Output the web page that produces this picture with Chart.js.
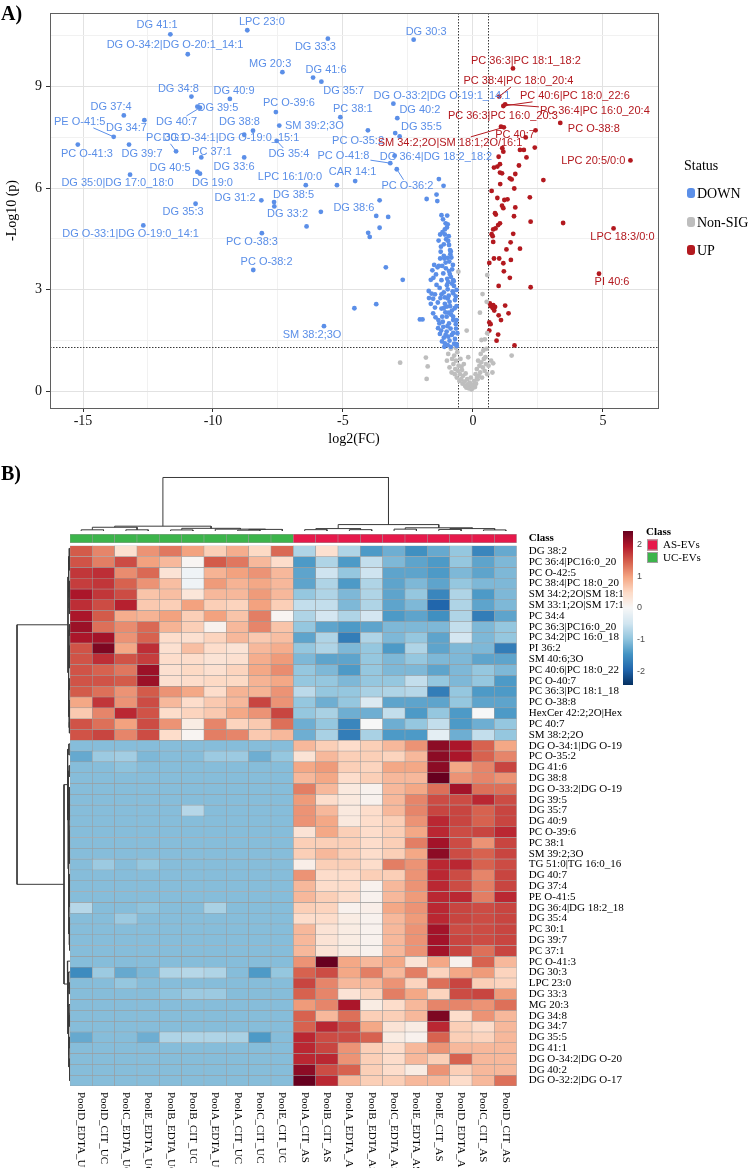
<!DOCTYPE html>
<html><head><meta charset="utf-8">
<script src="https://cdn.jsdelivr.net/npm/chart.js@4.4.1/dist/chart.umd.min.js"></script>
<style>
html,body{margin:0;padding:0;background:#fff;}
#wrap{position:relative;width:750px;height:1168px;overflow:hidden;background:#fff;}
canvas{position:absolute;}
.panel{position:absolute;font:bold 20px "Liberation Serif","Times New Roman",serif;line-height:24px;color:#000;}
</style></head><body>
<div id="wrap">
<canvas id="volcano" width="750" height="465" style="left:0;top:0"></canvas>
<canvas id="heat" width="750" height="648" style="left:0;top:520px"></canvas>
<canvas id="colDendro" width="447" height="55" style="left:70px;top:476px"></canvas>
<canvas id="rowDendro" width="56" height="543" style="left:14px;top:543px"></canvas>
<div class="panel" style="left:1px;top:1px">A)</div>
<div class="panel" style="left:1px;top:461px">B)</div>
</div>
<script>
// ================= DATA : volcano =================
const downLabelNames = ['DG 41:1','DG O-34:2|DG O-20:1_14:1','LPC 23:0','DG 33:3','DG 30:3','MG 20:3','DG 41:6','DG 35:7',
 'DG O-33:2|DG O-19:1_14:1','DG 34:8','DG 40:9','DG 39:5','DG 40:7','PC O-39:6','PC 38:1','DG 40:2','DG 37:4','DG 34:7',
 'PE O-41:5','SM 39:2;3O','DG 38:8','DG O-34:1|DG O-19:0_15:1','DG 35:5','PC O-35:2','PC O-41:3','DG 39:7','PC 30:1',
 'DG 35:4','PC 37:1','DG 33:6','DG 36:4|DG 18:2_18:2','PC O-41:8','DG 40:5','DG 19:0','DG 35:0|DG 17:0_18:0','CAR 14:1',
 'PC O-36:2','LPC 16:1/0:0','DG 31:2','DG 38:5','DG 33:2','DG 38:6','DG 35:3','DG O-33:1|DG O-19:0_14:1','PC O-38:3',
 'PC O-38:2','SM 38:2;3O'];
const downLabelFC = [-11.64,-10.97,-8.68,-5.58,-2.28,-7.33,-6.15,-5.83,-3.06,-10.83,-9.35,-10.6,-10.5,-7.58,-5.1,-2.91,-13.43,-12.64,
 -13.82,-7.45,-8.46,-8.8,-2.99,-4.04,-15.2,-13.23,-11.42,-7.55,-10.45,-8.8,-3.01,-3.18,-10.6,-10.5,-13.19,-4.53,
 -2.93,-6.43,-8.14,-7.65,-5.85,-3.59,-10.67,-12.68,-8.12,-8.45,-5.73];
const downLabelP = [10.55,9.96,10.67,10.42,10.39,9.43,9.27,9.15,8.5,8.71,8.64,8.41,8.38,8.25,8.1,8.07,8.15,8.01,
 7.52,7.85,7.7,7.58,7.63,7.71,7.29,7.29,7.09,7.4,6.91,6.91,6.96,6.74,6.48,6.43,6.4,6.21,
 6.56,6.09,5.64,5.59,5.3,5.64,5.54,4.9,4.67,3.58,1.92];
const downOtherFC = [-5.23,-1.31,-1.13,-7.64,-6.4,-3.72,-3.26,-3.59,-4.03,-3.97,-1.78,-1.4,-1.37,-3.35,-2.7,-4.56,-3.72,-2.04,-1.94,-2.82,
 -1.21,-0.99,-1.05,-0.97,-1.0,-1.08,-1.26,-1.08,-1.32,-1.03,-0.95,-1.12,-0.88,-0.85,-0.92,-1.12,-1.1,-0.97,-1.49,-1.31,
 -1.56,-1.36,-0.77,-0.92,-1.62,-1.21,-0.99,-0.85,-0.81,-0.73,-1.0,-0.97,-1.59,-1.46,-1.21,-1.08,-1.69,-1.53,-0.97,-0.76,
 -0.88,-1.0,-0.63,-1.46,-1.21,-1.18,-1.01,-0.76,-1.29,-0.92,-1.14,-0.86,-1.22,-1.01,-0.81,-1.27,-0.69,-1.12,-0.63,-1.08,
 -0.85,-0.76,-0.63,-1.4,-1.14,-0.91,-0.69,-1.53,-1.33,-1.12,-0.94,-0.65,-0.6,-0.76,-1.04,-0.63,-1.23,-1.15,-0.81,-1.1,
 -0.95,-1.17,-0.93,-1.24,-0.83,-1.05,-1.42,-0.89,-1.28,-0.78,-1.12,-1.35,-0.9,-0.7,-1.06,-1.44,-0.84,-1.16,-0.66,-0.98,
 -1.34,-0.76,-1.05,-0.9,-1.19,-0.72,-0.97,-0.62,-1.26,-0.87,-1.52,-0.95,-1.18,-0.8,-1.7,-1.62,-0.66,-0.74,-1.08,-1.25,-0.93];
const downOtherP = [6.09,6.27,6.07,5.46,4.87,5.18,5.15,4.83,4.68,4.56,5.68,5.81,5.62,3.66,3.29,2.45,2.57,2.12,2.12,7.53,
 5.2,5.19,4.96,4.93,4.84,4.78,4.63,4.63,4.45,4.49,4.44,4.34,4.17,4.13,4.32,4.0,3.92,3.94,3.73,3.7,
 3.57,3.66,3.73,3.55,3.29,3.28,3.32,3.38,3.18,3.11,3.13,3.01,2.88,2.86,2.86,2.77,2.75,2.73,2.74,2.89,
 2.51,2.5,2.51,2.47,2.44,2.2,2.2,2.1,2.0,2.0,1.9,1.85,1.79,1.76,1.66,1.69,1.54,1.58,1.39,1.41,
 1.31,2.2,2.1,3.14,3.48,3.83,2.69,2.3,2.1,2.45,2.32,1.85,1.71,3.28,3.63,2.99,4.27,5.08,2.38,1.31,
 1.61,4.7,4.58,4.12,3.95,3.8,3.45,3.46,3.05,2.95,2.92,2.62,2.64,2.45,2.33,2.18,2.26,2.05,1.98,1.92,
 1.86,1.72,1.66,1.49,1.47,1.4,1.36,1.33,3.92,4.05,3.35,3.22,3.7,3.6,2.96,2.58,2.8,3.25,2.58,2.75,2.82];

const upLabelNames = ['PC 36:3|PC 18:1_18:2','PC 38:4|PC 18:0_20:4','PC 40:6|PC 18:0_22:6','PC 36:4|PC 16:0_20:4','PC O-38:8',
 'PC 36:3|PC 16:0_20:3','SM 34:2;2O|SM 18:1;2O/16:1','PC 40:7','LPC 20:5/0:0','LPC 18:3/0:0','PI 40:6'];
const upLabelFC = [1.54,1.01,1.17,1.24,3.36,1.08,1.19,2.41,6.06,5.41,4.85];
const upLabelP = [9.54,8.71,8.43,8.48,7.93,7.82,7.8,7.71,6.82,4.81,3.47];
const upOtherFC = [2.03,1.81,1.96,2.38,2.06,1.13,1.17,0.99,1.77,1.04,0.94,0.81,1.04,1.12,1.63,1.42,1.49,2.71,1.05,1.59,0.72,
 2.19,0.94,1.21,1.33,1.12,1.17,1.63,0.88,0.85,1.58,2.22,3.47,1.04,0.97,0.87,0.78,0.72,0.76,1.55,0.78,1.45,1.81,1.29,
 0.81,1.01,1.46,1.17,0.63,1.19,1.42,2.22,0.99,0.65,0.78,0.85,0.69,0.76,1.24,0.82,1.37,0.99,1.08,0.63,0.68,0.63,0.97,0.91,1.6];
const upOtherP = [7.5,7.13,7.13,7.2,6.91,7.18,7.08,6.93,6.67,6.71,6.64,6.61,6.46,6.44,6.42,6.29,6.26,6.24,6.12,5.99,5.92,
 5.73,5.71,5.65,5.67,5.48,5.41,5.43,5.22,5.26,5.17,5.01,4.97,4.96,4.91,4.81,4.78,4.64,4.58,4.65,4.41,4.4,4.21,4.19,
 3.92,3.92,3.88,3.78,3.79,3.54,3.35,3.07,3.11,2.59,2.54,2.49,2.51,2.46,2.53,2.38,2.3,2.24,2.1,2.03,1.98,1.79,1.67,1.49,1.35];

const nonSigFC = [-2.8,-1.81,-1.74,-1.78,1.49,0.78,-0.56,0.55,0.37,0.53,0.27,0.55,-0.24,0.33,0.46,
 -1.0,-0.95,-0.9,-0.85,-0.82,-0.8,-0.75,-0.72,-0.7,-0.68,-0.65,-0.62,-0.6,-0.58,-0.55,-0.52,-0.5,-0.48,-0.45,-0.42,
 -0.4,-0.38,-0.35,-0.32,-0.3,-0.28,-0.25,-0.22,-0.2,-0.18,-0.15,-0.12,-0.1,-0.08,-0.05,0.0,0.02,0.05,0.08,0.1,
 0.12,0.15,0.18,0.2,0.22,0.25,0.28,0.3,0.32,0.35,0.38,0.4,0.42,0.45,0.48,0.5,0.52,0.55,0.6,0.7,0.75,-0.66,-0.44,-0.06,0.16];
const nonSigP = [0.84,0.99,0.73,0.36,1.05,0.82,3.53,3.43,2.87,2.64,2.32,1.71,1.79,1.51,1.53,
 0.9,1.1,0.7,1.25,0.55,0.95,0.8,1.05,0.5,0.65,0.9,0.4,1.15,0.6,0.75,0.3,0.5,0.95,0.35,0.62,
 0.22,0.45,0.8,0.28,0.15,0.52,0.1,0.35,0.2,1.0,0.08,0.25,0.12,0.4,0.05,0.1,0.18,0.3,0.12,0.5,
 0.22,0.65,0.35,0.9,0.45,0.75,0.55,1.1,0.85,0.4,0.7,1.2,0.95,0.6,1.0,0.8,1.25,0.5,0.75,0.9,0.55,1.28,0.72,0.18,0.4];

const fcCutoffs = [-0.585, 0.585];
const pCutoff = 1.301;

// ================= DATA : heatmap =================
const colNames = ['PoolD_EDTA_UC','PoolD_CIT_UC','PoolC_EDTA_UC','PoolE_EDTA_UC','PoolB_EDTA_UC','PoolB_CIT_UC','PoolA_EDTA_UC',
 'PoolA_CIT_UC','PoolC_CIT_UC','PoolE_CIT_UC','PoolA_CIT_AS','PoolB_CIT_AS','PoolA_EDTA_AS','PoolB_EDTA_AS','PoolC_EDTA_AS',
 'PoolE_EDTA_AS','PoolE_CIT_AS','PoolD_EDTA_AS','PoolC_CIT_AS','PoolD_CIT_AS'];
const colClass = ['UC-EVs','UC-EVs','UC-EVs','UC-EVs','UC-EVs','UC-EVs','UC-EVs','UC-EVs','UC-EVs','UC-EVs',
 'AS-EVs','AS-EVs','AS-EVs','AS-EVs','AS-EVs','AS-EVs','AS-EVs','AS-EVs','AS-EVs','AS-EVs'];
const rowNames = ['DG 38:2','PC 36:4|PC16:0_20','PC O-42:5','PC 38:4|PC 18:0_20','SM 34:2;2O|SM 18:1','SM 33:1;2O|SM 17:1',
 'PC 34:4','PC 36:3|PC16:0_20','PC 34:2|PC 16:0_18','PI 36:2','SM 40:6;3O','PC 40:6|PC 18:0_22','PC O-40:7',
 'PC 36:3|PC 18:1_18','PC O-38:8','HexCer 42:2;2O|Hex','PC 40:7','SM 38:2;2O',
 'DG O-34:1|DG O-19','PC O-35:2','DG 41:6','DG 38:8','DG O-33:2|DG O-19','DG 39:5','DG 35:7','DG 40:9','PC O-39:6',
 'PC 38:1','SM 39:2;3O','TG 51:0|TG 16:0_16','DG 40:7','DG 37:4','PE O-41:5','DG 36:4|DG 18:2_18','DG 35:4','PC 30:1',
 'DG 39:7','PC 37:1','PC O-41:3','DG 30:3','LPC 23:0','DG 33:3','MG 20:3','DG 34:8','DG 34:7','DG 35:5','DG 41:1',
 'DG O-34:2|DG O-20','DG 40:2','DG O-32:2|DG O-17'];
const heatUpper = [
 [1.5,1.2,0.4,1.1,1.3,1.0,0.6,0.9,0.5,1.4,-0.75,0.4,-0.75,-1.4,-1.2,-1.5,-1.25,-0.95,-1.6,-1.25],
 [1.55,1.25,1.6,1.0,0.8,0.05,1.5,1.3,0.8,0.45,-1.4,-0.75,-1.4,-0.6,-1.1,-1.3,-1.4,-0.95,-1.3,-1.1],
 [1.75,1.8,1.15,1.4,0.35,-0.1,0.85,1.0,1.1,0.8,-1.3,-0.5,-0.95,-0.5,-1.3,-1.3,-1.4,-1.1,-1.3,-1.1],
 [1.7,1.75,1.45,1.1,0.75,-0.1,1.05,0.85,0.95,0.8,-1.3,-0.75,-1.4,-0.75,-1.3,-1.1,-1.3,-0.95,-1.1,-1.1],
 [2.0,1.75,1.6,0.7,0.75,0.3,0.8,0.8,1.05,0.8,-0.95,-0.75,-1.1,-0.75,-1.3,-0.95,-1.6,-0.75,-1.4,-1.1],
 [1.8,1.6,1.9,0.65,0.6,1.0,0.6,0.55,1.0,0.6,-0.6,-0.6,-1.1,-0.75,-1.3,-1.1,-1.95,-0.75,-1.3,-1.1],
 [2.0,1.5,0.9,0.85,1.0,0.6,1.0,0.7,1.25,0.05,-0.75,-0.45,-0.75,-0.45,-1.4,-1.3,-1.5,-0.75,-1.7,-1.3],
 [2.1,1.35,1.15,1.4,0.85,0.6,0.1,0.8,1.2,0.7,-0.95,-1.3,-1.4,-1.3,-1.1,-1.1,-1.1,-0.6,-1.1,-0.95],
 [2.0,2.05,1.1,1.45,0.45,0.4,0.55,0.8,0.65,0.75,-1.3,-0.75,-1.7,-0.75,-1.1,-0.95,-1.3,-0.45,-1.1,-0.95],
 [1.55,2.3,0.95,1.8,0.4,0.75,0.45,0.35,0.8,0.9,-0.95,-0.75,-1.1,-0.95,-1.4,-0.75,-1.3,-1.1,-1.1,-1.7],
 [1.55,1.8,1.55,1.7,0.45,0.45,0.35,0.4,0.9,1.05,-1.1,-1.3,-1.3,-0.95,-1.1,-0.95,-1.1,-1.1,-1.3,-1.3],
 [1.55,1.45,1.3,2.1,0.4,0.5,0.4,0.55,0.95,1.15,-0.95,-1.1,-1.4,-0.95,-1.1,-1.1,-1.3,-1.1,-0.95,-1.1],
 [1.55,1.55,1.5,2.1,0.4,0.45,0.5,0.5,0.85,0.95,-0.95,-0.95,-1.1,-0.95,-0.95,-0.6,-0.95,-1.1,-0.95,-1.4],
 [1.5,1.35,1.1,1.5,1.1,0.95,0.45,0.85,0.85,1.1,-0.65,-0.95,-0.95,-0.8,-0.75,-0.7,-1.7,-0.95,-1.4,-1.4],
 [0.95,1.75,1.1,1.6,0.8,0.45,0.65,0.8,1.65,1.1,-0.95,-1.2,-0.95,-0.35,-1.3,-1.3,-1.3,-0.95,-1.3,-1.3],
 [0.65,1.2,1.85,1.55,0.45,0.55,0.65,0.95,1.1,1.65,-0.95,-0.8,-1.2,-1.2,-0.6,-1.4,-0.95,-1.4,0.0,-1.4],
 [1.55,1.35,1.0,1.6,1.1,0.2,1.2,0.55,0.65,1.35,-1.2,-0.95,-1.6,0.0,-1.2,-0.95,-0.6,-1.4,-1.2,-0.95],
 [1.55,1.65,1.2,1.6,0.45,0.05,1.25,1.2,0.65,0.8,-1.2,-0.8,-1.7,-0.8,-1.4,-1.4,-0.25,-1.2,-0.6,-0.95]
];
const heatLower = [
 [-1.05,-1.05,-1.05,-1.05,-1.05,-1.05,-1.05,-1.05,-1.05,-1.05,0.8,0.6,0.45,0.6,0.8,1.1,2.2,2.0,1.45,0.95],
 [-1.25,-0.9,-0.85,-1.1,-1.05,-1.05,-0.9,-0.9,-1.2,-0.95,0.35,0.8,0.6,0.6,0.55,0.8,2.2,2.0,1.45,1.2],
 [-1.05,-1.05,-1.0,-1.05,-1.05,-1.05,-1.05,-1.05,-1.05,-1.05,0.95,1.05,0.6,0.55,0.95,0.95,2.2,0.95,1.2,1.65],
 [-1.05,-1.05,-1.05,-1.05,-1.05,-1.05,-1.05,-1.05,-1.05,-1.05,0.8,0.95,0.45,0.6,0.8,0.8,2.45,1.1,1.2,1.1],
 [-1.05,-1.05,-1.05,-1.05,-1.05,-1.05,-1.05,-1.05,-1.05,-1.05,1.25,0.8,0.25,0.1,0.8,0.95,1.35,2.05,1.35,1.35],
 [-1.05,-1.05,-1.05,-1.05,-1.05,-1.05,-1.05,-1.05,-1.05,-1.05,1.05,0.45,0.25,0.1,0.8,1.2,1.6,1.6,1.85,1.6],
 [-1.05,-1.05,-1.05,-1.05,-1.05,-0.7,-1.05,-1.05,-1.05,-1.05,1.1,0.8,0.25,0.45,0.8,1.2,1.65,1.65,1.45,1.65],
 [-1.05,-1.05,-1.05,-1.05,-1.05,-1.05,-1.05,-1.05,-1.05,-1.05,1.1,0.95,0.25,0.45,0.6,1.1,1.85,1.65,1.45,1.65],
 [-1.05,-1.05,-1.05,-1.05,-1.05,-1.05,-1.05,-1.05,-1.05,-1.05,0.35,0.95,0.6,0.45,0.6,0.95,1.85,1.6,1.65,1.85],
 [-1.05,-1.05,-1.05,-1.05,-1.05,-1.05,-1.05,-1.05,-1.05,-1.05,0.6,0.6,0.6,0.45,0.6,1.25,2.05,1.6,1.1,1.65],
 [-1.05,-1.05,-1.05,-1.05,-1.05,-1.05,-1.05,-1.05,-1.05,-1.05,0.6,0.8,0.6,0.45,0.6,0.95,2.2,1.6,1.45,1.65],
 [-1.05,-0.9,-1.05,-0.95,-1.05,-1.05,-1.05,-1.05,-1.05,-1.05,0.15,0.6,0.6,0.45,1.25,1.1,1.85,1.85,1.45,1.6],
 [-1.05,-1.05,-1.05,-1.05,-1.05,-1.05,-1.05,-1.05,-1.05,-1.05,1.1,0.45,0.45,0.6,0.6,1.1,1.85,1.6,1.2,1.65],
 [-1.05,-1.05,-1.05,-1.05,-1.05,-1.05,-1.05,-1.05,-1.05,-1.05,0.8,0.45,0.45,0.1,0.8,1.1,1.85,1.6,1.25,1.65],
 [-1.05,-1.05,-1.05,-1.05,-1.05,-1.05,-1.05,-1.05,-1.05,-1.05,0.8,0.6,0.45,0.1,0.8,1.05,1.85,1.85,1.25,1.85],
 [-0.7,-1.05,-1.05,-1.0,-1.05,-1.05,-0.8,-1.05,-1.05,-1.05,0.6,0.55,0.1,0.15,0.95,1.1,1.85,1.65,1.6,1.65],
 [-1.05,-1.05,-0.9,-1.05,-1.05,-1.05,-1.05,-1.05,-1.05,-1.05,0.45,0.45,0.2,0.1,0.8,1.05,1.85,1.65,1.6,1.65],
 [-1.05,-1.05,-1.05,-1.05,-1.05,-1.05,-1.05,-1.05,-1.05,-1.05,0.8,0.35,0.2,0.1,0.8,1.1,2.05,1.6,1.6,1.65],
 [-1.05,-1.05,-1.05,-1.05,-1.05,-1.05,-1.05,-1.05,-1.05,-1.05,0.8,0.35,0.2,0.1,0.8,1.1,2.05,1.65,1.6,1.65],
 [-1.05,-1.05,-1.05,-1.05,-1.05,-1.05,-1.05,-1.05,-1.05,-1.05,0.8,0.35,0.2,0.1,0.8,1.1,2.05,1.65,1.35,1.65],
 [-1.05,-1.05,-1.05,-1.05,-1.05,-1.05,-1.05,-1.05,-1.05,-1.05,1.1,2.45,0.95,0.8,0.95,0.35,0.95,0.1,1.45,0.8],
 [-1.55,-0.9,-1.25,-1.1,-0.75,-0.7,-0.75,-1.05,-1.4,-0.95,1.45,1.6,0.95,1.25,0.8,1.25,0.55,0.95,1.05,0.55],
 [-1.05,-1.05,-0.95,-1.05,-1.05,-1.05,-1.05,-1.05,-1.05,-1.05,1.65,1.2,0.8,0.8,1.1,0.55,1.35,1.65,0.6,0.55],
 [-1.05,-1.05,-1.05,-1.05,-1.0,-0.9,-0.9,-1.05,-1.05,-1.05,1.45,1.2,0.35,0.55,1.25,0.95,0.55,1.6,1.65,1.05],
 [-1.05,-1.05,-1.05,-1.05,-1.05,-1.05,-1.05,-1.05,-1.05,-1.05,1.05,1.2,2.0,0.2,0.45,0.8,1.2,1.2,1.1,1.35],
 [-1.05,-1.05,-1.05,-1.05,-1.05,-1.05,-1.05,-1.05,-1.05,-1.05,1.45,0.8,1.35,0.6,0.6,0.8,2.3,0.45,1.1,0.8],
 [-1.05,-1.05,-1.05,-1.05,-1.05,-1.05,-1.05,-1.05,-1.05,-1.05,1.45,1.85,1.6,0.95,0.35,0.2,1.85,0.6,0.45,0.8],
 [-1.25,-1.05,-1.05,-1.2,-0.75,-0.75,-0.75,-0.8,-1.4,-1.05,1.85,1.6,1.6,1.45,0.2,0.1,1.45,0.6,0.55,0.8],
 [-1.05,-1.05,-1.05,-1.05,-1.05,-1.05,-1.05,-1.05,-1.05,-1.05,1.85,1.65,1.1,0.6,0.45,0.8,1.1,0.8,0.8,0.8],
 [-1.05,-1.05,-1.05,-1.05,-1.05,-1.05,-1.05,-1.05,-1.05,-1.05,1.85,1.85,1.1,0.6,0.45,0.8,0.6,1.45,0.8,0.8],
 [-1.05,-1.05,-1.05,-1.05,-1.05,-1.05,-1.05,-1.05,-1.05,-1.05,2.2,1.6,1.45,0.6,0.45,0.2,1.1,0.6,0.8,0.8],
 [-1.05,-1.05,-1.05,-1.05,-1.05,-1.05,-1.05,-1.05,-1.05,-1.05,2.45,1.85,0.8,0.6,0.6,0.8,0.8,0.45,0.8,1.35]
];
// dendrograms: [height, left, right]; a number is a leaf index
const colTree = [10,
  [0.9, [0.7, [0.22, 0, 1], [0.22, 2, 3]], [0.5, [0.2, 4, 5], [0.35, 6, [0.3, [0.15, 7, 8], 9]]]],
  [1.2, [0.45, [0.25, 10, 11], [0.25, 12, 13]], [0.6, [0.35, 14, 15], [0.45, [0.3, 16, 17], [0.2, 18, 19]]]]];
const rowTree = [10,
  [0.38,
    [0.25, [0.15, 0, [0.1, 1, 2]], [0.18, [0.1, 3, 4], [0.12, 5, 6]]],
    [0.3, [0.2, [0.12, 7, 8], [0.14, [0.08, 9, 10], 11]], [0.22, [0.15, 12, 13], [0.17, [0.1, 14, 15], [0.11, 16, 17]]]]],
  [1.13,
    [0.45, [0.2, 18, 19], [0.35, [0.15, 20, 21], [0.3,
        [0.2, [0.12, [0.08, 22, 23], [0.08, 24, 25]], [0.15, [0.06, 26, 27], [0.1, 28, 29]]],
        [0.22, [0.1, [0.05, 30, 31], [0.07, 32, 33]], [0.14, [0.08, 34, 35], [0.09, 36, 37]]]]]],
    [0.5, 38, [0.4, [0.25, 39, [0.15, 40, 41]], [0.3, [0.2, 42, [0.1, 43, 44]], [0.22, [0.12, 45, 46], [0.1, 47, [0.06, 48, 49]]]]]]]];

// ================= STYLE / LAYOUT =================
const SERIF = '"Liberation Serif", "Times New Roman", serif';
const SANS = '"Liberation Sans", Arial, sans-serif';
const BLUE = '#5B8FE8', RED = '#B3191F', GRAY = '#BEBEBE';
const CLASS_COLORS = {'AS-EVs': '#E6194B', 'UC-EVs': '#3CB44B'};
const labelPos = {
 'DG 41:1':[-12.15,10.83],'DG O-34:2|DG O-20:1_14:1':[-11.46,10.24],'LPC 23:0':[-8.12,10.92],'DG 33:3':[-6.06,10.18],
 'DG 30:3':[-1.8,10.62],'MG 20:3':[-7.8,9.67],'DG 41:6':[-5.65,9.5],'DG 35:7':[-4.97,8.88],'DG O-33:2|DG O-19:1_14:1':[-1.19,8.73],
 'DG 34:8':[-11.33,8.93],'DG 40:9':[-9.19,8.88],'DG 39:5':[-9.81,8.37],'DG 40:7':[-11.4,7.96],'PC O-39:6':[-7.08,8.52],
 'PC 38:1':[-4.62,8.34],'DG 40:2':[-2.04,8.31],'DG 37:4':[-13.92,8.4],'DG 34:7':[-13.33,7.78],'PE O-41:5':[-15.13,7.96],
 'SM 39:2;3O':[-6.1,7.84],'DG 38:8':[-8.98,7.96],'DG O-34:1|DG O-19:0_15:1':[-9.31,7.49],'DG 35:5':[-1.98,7.81],
 'PC O-35:2':[-4.42,7.4],'PC O-41:3':[-14.85,7.01],'DG 39:7':[-12.73,7.01],'PC 30:1':[-11.81,7.49],'DG 35:4':[-7.08,7.01],
 'PC 37:1':[-10.04,7.07],'DG 33:6':[-9.19,6.63],'DG 36:4|DG 18:2_18:2':[-1.42,6.92],'PC O-41:8':[-4.98,6.95],
 'DG 40:5':[-11.65,6.6],'DG 19:0':[-10.02,6.15],'DG 35:0|DG 17:0_18:0':[-13.67,6.15],'CAR 14:1':[-4.63,6.48],
 'PC O-36:2':[-2.52,6.07],'LPC 16:1/0:0':[-7.04,6.33],'DG 31:2':[-9.15,5.71],'DG 38:5':[-6.9,5.8],'DG 33:2':[-7.13,5.24],
 'DG 38:6':[-4.58,5.41],'DG 35:3':[-11.15,5.3],'DG O-33:1|DG O-19:0_14:1':[-13.17,4.64],'PC O-38:3':[-8.5,4.41],
 'PC O-38:2':[-7.94,3.82],'SM 38:2;3O':[-6.19,1.66],
 'PC 36:3|PC 18:1_18:2':[2.04,9.76],'PC 38:4|PC 18:0_20:4':[1.75,9.17],'PC 40:6|PC 18:0_22:6':[3.92,8.73],
 'PC 36:4|PC 16:0_20:4':[4.69,8.28],'PC O-38:8':[4.65,7.75],'PC 36:3|PC 16:0_20:3':[1.15,8.14],
 'SM 34:2;2O|SM 18:1;2O/16:1':[-0.88,7.34],'PC 40:7':[1.62,7.57],'LPC 20:5/0:0':[4.63,6.8],'LPC 18:3/0:0':[5.75,4.56],'PI 40:6':[5.35,3.22]
};
const leaderLabels = ['DG 40:7','PE O-41:5','PC 30:1','DG 35:4','PC O-41:8','PC O-36:2','PC 38:4|PC 18:0_20:4',
 'PC 40:6|PC 18:0_22:6','PC 36:4|PC 16:0_20:4','SM 34:2;2O|SM 18:1;2O/16:1'];

const pts = (xs, ys) => xs.map((x, i) => ({x, y: ys[i]}));

// ================= VOLCANO =================
const volcanoDecor = {
  id: 'volcanoDecor',
  beforeDatasetsDraw(chart) {
    const {ctx, chartArea: a, scales: {x, y}} = chart;
    ctx.save();
    ctx.strokeStyle = '#3a3a3a'; ctx.lineWidth = 1; ctx.setLineDash([1.5, 1.5]);
    fcCutoffs.forEach(v => {
      const px = Math.round(x.getPixelForValue(v)) + 0.5;
      ctx.beginPath(); ctx.moveTo(px, a.top); ctx.lineTo(px, a.bottom); ctx.stroke();
    });
    const py = Math.round(y.getPixelForValue(pCutoff)) + 0.5;
    ctx.beginPath(); ctx.moveTo(a.left, py); ctx.lineTo(a.right, py); ctx.stroke();
    ctx.restore();
  },
  afterDatasetsDraw(chart) {
    const {ctx, scales: {x, y}} = chart;
    ctx.save();
    ctx.font = '11px ' + SANS; ctx.textAlign = 'center'; ctx.textBaseline = 'middle';
    const sets = [
      {names: downLabelNames, xs: downLabelFC, ys: downLabelP, color: BLUE},
      {names: upLabelNames, xs: upLabelFC, ys: upLabelP, color: RED}
    ];
    sets.forEach(s => s.names.forEach((name, i) => {
      const lp = labelPos[name];
      const cx = x.getPixelForValue(lp[0]), cy = y.getPixelForValue(lp[1]);
      const px = x.getPixelForValue(s.xs[i]), py = y.getPixelForValue(s.ys[i]);
      if (leaderLabels.includes(name)) {
        const hw = ctx.measureText(name).width / 2 + 1, hh = 6;
        const dx = px - cx, dy = py - cy;
        const sc = Math.min(dx ? hw / Math.abs(dx) : Infinity, dy ? hh / Math.abs(dy) : Infinity);
        if (sc < 1) {
          ctx.strokeStyle = s.color; ctx.lineWidth = 1;
          ctx.beginPath(); ctx.moveTo(px, py); ctx.lineTo(cx + dx * sc, cy + dy * sc); ctx.stroke();
        }
      }
      ctx.fillStyle = s.color;
      ctx.fillText(name, cx, cy);
    }));
    ctx.restore();
  },
  afterDraw(chart) {
    const {ctx, chartArea: a} = chart;
    ctx.save();
    ctx.strokeStyle = '#5f5f5f'; ctx.lineWidth = 1;
    ctx.strokeRect(Math.round(a.left) + 0.5, Math.round(a.top) + 0.5, Math.round(a.right - a.left), Math.round(a.bottom - a.top));
    ctx.fillStyle = '#000'; ctx.font = '14px ' + SERIF; ctx.textAlign = 'left'; ctx.textBaseline = 'middle';
    ctx.fillText('Status', 684, 166);
    [['DOWN', BLUE, 193], ['Non-SIG', GRAY, 222], ['UP', RED, 250]].forEach(([t, c, yy]) => {
      ctx.fillStyle = c;
      ctx.beginPath();
      if (ctx.roundRect) ctx.roundRect(687, yy - 5, 8, 10, 3); else ctx.rect(687, yy - 5, 8, 10);
      ctx.fill();
      ctx.fillStyle = '#000';
      ctx.fillText(t, 697, yy + 1);
    });
    ctx.restore();
  }
};

const isMajorX = v => Math.abs(v % 5) < 1e-9;
const isMajorY = v => Math.abs(v % 3) < 1e-9;
new Chart(document.getElementById('volcano'), {
  type: 'scatter',
  data: { datasets: [
    {label: 'DOWN', data: pts(downLabelFC.concat(downOtherFC), downLabelP.concat(downOtherP)), backgroundColor: BLUE, borderWidth: 0, pointRadius: 2.4},
    {label: 'Non-SIG', data: pts(nonSigFC, nonSigP), backgroundColor: GRAY, borderWidth: 0, pointRadius: 2.4},
    {label: 'UP', data: pts(upLabelFC.concat(upOtherFC), upLabelP.concat(upOtherP)), backgroundColor: RED, borderWidth: 0, pointRadius: 2.4}
  ]},
  options: {
    responsive: false, animation: false, events: [],
    layout: {padding: {left: 0, top: 13, right: 92, bottom: 0}},
    plugins: {legend: {display: false}, tooltip: {enabled: false}},
    scales: {
      x: {type: 'linear', min: -16.27, max: 7.12,
        afterFit(s) { s.height = 57; },
        ticks: {stepSize: 2.5, includeBounds: false, autoSkip: false, maxRotation: 0, padding: 1,
          callback: v => isMajorX(v) ? String(v) : '', font: {family: SERIF, size: 14}, color: '#111'},
        grid: {color: c => isMajorX(c.tick.value) ? '#E2E2E2' : '#F1F1F1', lineWidth: 1,
          tickColor: c => isMajorX(c.tick.value) ? '#333' : 'rgba(0,0,0,0)', tickLength: 4},
        border: {display: false},
        title: {display: true, text: 'log2(FC)', font: {family: SERIF, size: 14}, color: '#000', padding: {top: 0, bottom: 17}}},
      y: {type: 'linear', min: -0.5, max: 11.18,
        afterFit(s) { s.width = 50; },
        ticks: {stepSize: 1.5, includeBounds: false, autoSkip: false, padding: 4,
          callback: v => isMajorY(v) ? String(v) : '', font: {family: SERIF, size: 14}, color: '#111'},
        grid: {color: c => isMajorY(c.tick.value) ? '#E2E2E2' : '#F1F1F1', lineWidth: 1,
          tickColor: c => isMajorY(c.tick.value) ? '#333' : 'rgba(0,0,0,0)', tickLength: 4},
        border: {display: false},
        title: {display: true, text: '-Log10 (p)', font: {family: SERIF, size: 14}, color: '#000', padding: {top: 4, bottom: 0}}}
    }
  },
  plugins: [volcanoDecor]
});

// ================= HEATMAP =================
const RDBU = ['#053061','#2166AC','#4393C3','#92C5DE','#D1E5F0','#F7F7F7','#FDDBC7','#F4A582','#D6604D','#B2182B','#67001F'];
const RDBU_RGB = RDBU.map(h => [parseInt(h.slice(1,3),16), parseInt(h.slice(3,5),16), parseInt(h.slice(5,7),16)]);
const SCALE_LIM = 2.44;
function valueColor(v) {
  let t = (v + SCALE_LIM) / (2 * SCALE_LIM);
  t = Math.max(0, Math.min(1, t));
  const p = t * (RDBU_RGB.length - 1);
  const i = Math.min(Math.floor(p), RDBU_RGB.length - 2);
  const f = p - i, a = RDBU_RGB[i], b = RDBU_RGB[i + 1];
  return 'rgb(' + a.map((c, k) => Math.round(c + (b[k] - c) * f)).join(',') + ')';
}
const heatValues = heatUpper.concat(heatLower);
const CELL_BORDER = '#9C9C9C';
const heatDatasets = heatValues.map((row, r) => ({
  label: rowNames[r],
  data: colNames.map(() => [r, r + 1]),
  backgroundColor: row.map(valueColor),
  borderColor: CELL_BORDER, borderWidth: 0.55, borderSkipped: false,
  grouped: false, barPercentage: 1, categoryPercentage: 1
}));
heatDatasets.push({
  label: 'Class',
  data: colNames.map(() => [-1.06, -0.28]),
  backgroundColor: colClass.map(c => CLASS_COLORS[c]),
  borderColor: CELL_BORDER, borderWidth: 0.55, borderSkipped: false,
  grouped: false, barPercentage: 1, categoryPercentage: 1
});
const CLASS_TICK = -0.67;

const heatDecor = {
  id: 'heatDecor',
  afterDraw(chart) {
    const {ctx, chartArea: a, scales: {x}} = chart;
    ctx.save();
    // column labels (rotated, reading downwards)
    ctx.fillStyle = '#000'; ctx.font = '11px ' + SERIF; ctx.textAlign = 'left'; ctx.textBaseline = 'middle';
    colNames.forEach((n, i) => {
      const px = x.getPixelForValue(i);
      ctx.save(); ctx.translate(px, a.bottom + 6); ctx.rotate(Math.PI / 2); ctx.fillText(n, 0, 0); ctx.restore();
    });
    // colour bar
    const top = 11, bot = 165, left = 623, w = 10;
    for (let yy = top; yy < bot; yy++) {
      const v = SCALE_LIM - (yy + 0.5 - top) / (bot - top) * 2 * SCALE_LIM;
      ctx.fillStyle = valueColor(v); ctx.fillRect(left, yy, w, 1);
    }
    ctx.fillStyle = '#4d4d4d'; ctx.font = '9px ' + SANS; ctx.textAlign = 'left'; ctx.textBaseline = 'middle';
    [2, 1, 0, -1, -2].forEach(v => {
      const yy = top + (SCALE_LIM - v) / (2 * SCALE_LIM) * (bot - top);
      ctx.fillText(String(v), 637, yy);
    });
    // class legend
    ctx.fillStyle = '#000'; ctx.font = 'bold 11px ' + SERIF;
    ctx.fillText('Class', 646, 12);
    ctx.font = '11px ' + SERIF;
    [['AS-EVs', 19.5], ['UC-EVs', 32]].forEach(([t, yy]) => {
      ctx.fillStyle = CLASS_COLORS[t]; ctx.fillRect(647, yy, 11, 11);
      ctx.strokeStyle = '#A0A0A0'; ctx.lineWidth = 1; ctx.strokeRect(647.5, yy + 0.5, 10, 10);
      ctx.fillStyle = '#000'; ctx.fillText(t, 663, yy + 6);
    });
    ctx.restore();
  }
};

new Chart(document.getElementById('heat'), {
  type: 'bar',
  data: {labels: colNames, datasets: heatDatasets},
  options: {
    responsive: false, animation: false, events: [],
    layout: {padding: {left: 70, top: 7.8, right: 0, bottom: 0}},
    plugins: {legend: {display: false}, tooltip: {enabled: false}},
    scales: {
      x: {type: 'category', offset: true, grid: {display: false}, border: {display: false},
        ticks: {display: false}, afterFit(s) { s.height = 82; }},
      y: {type: 'linear', position: 'right', min: -1.4, max: 50, reverse: true,
        grid: {display: false}, border: {display: false},
        afterFit(s) { s.width = 233.3; },
        afterBuildTicks(s) { s.ticks = [{value: CLASS_TICK}].concat(rowNames.map((n, i) => ({value: i + 0.5}))); },
        ticks: {autoSkip: false, padding: 4, color: '#000',
          callback: (v, i) => i === 0 ? 'Class' : rowNames[i - 1],
          font: c => ({family: SERIF, size: 11, weight: c.index === 0 ? 'bold' : 'normal'})}}
    }
  },
  plugins: [heatDecor]
});

// ================= DENDROGRAMS =================
function dendroSegments(node, horizontal) {
  const segs = [];
  function walk(n) {
    if (typeof n === 'number') return {pos: n + 0.5, h: 0};
    const [h, l, r] = n;
    const L = walk(l), R = walk(r);
    const seg = [[L.pos, L.h], [L.pos, h], [R.pos, h], [R.pos, R.h]];
    segs.push(seg.map(([p, hh]) => horizontal ? {x: hh, y: p} : {x: p, y: hh}));
    return {pos: (L.pos + R.pos) / 2, h};
  }
  walk(node);
  return segs;
}
const dendroDs = segs => segs.map(s => ({data: s, showLine: true, pointRadius: 0, borderColor: '#3a3a3a', borderWidth: 1, fill: false, clip: 2}));
const hiddenOpts = (xs, ys) => ({
  responsive: false, animation: false, events: [],
  layout: {padding: 0},
  plugins: {legend: {display: false}, tooltip: {enabled: false}},
  scales: {x: Object.assign({type: 'linear', display: false}, xs), y: Object.assign({type: 'linear', display: false}, ys)}
});
new Chart(document.getElementById('colDendro'), {
  type: 'scatter',
  data: {datasets: dendroDs(dendroSegments(colTree, false))},
  options: hiddenOpts({min: 0, max: 20}, {min: 0, max: 10.28})
});
new Chart(document.getElementById('rowDendro'), {
  type: 'scatter',
  data: {datasets: dendroDs(dendroSegments(rowTree, true))},
  options: hiddenOpts({min: 0, max: 10.57, reverse: true}, {min: 0, max: 50, reverse: true})
});
</script>
</body></html>
